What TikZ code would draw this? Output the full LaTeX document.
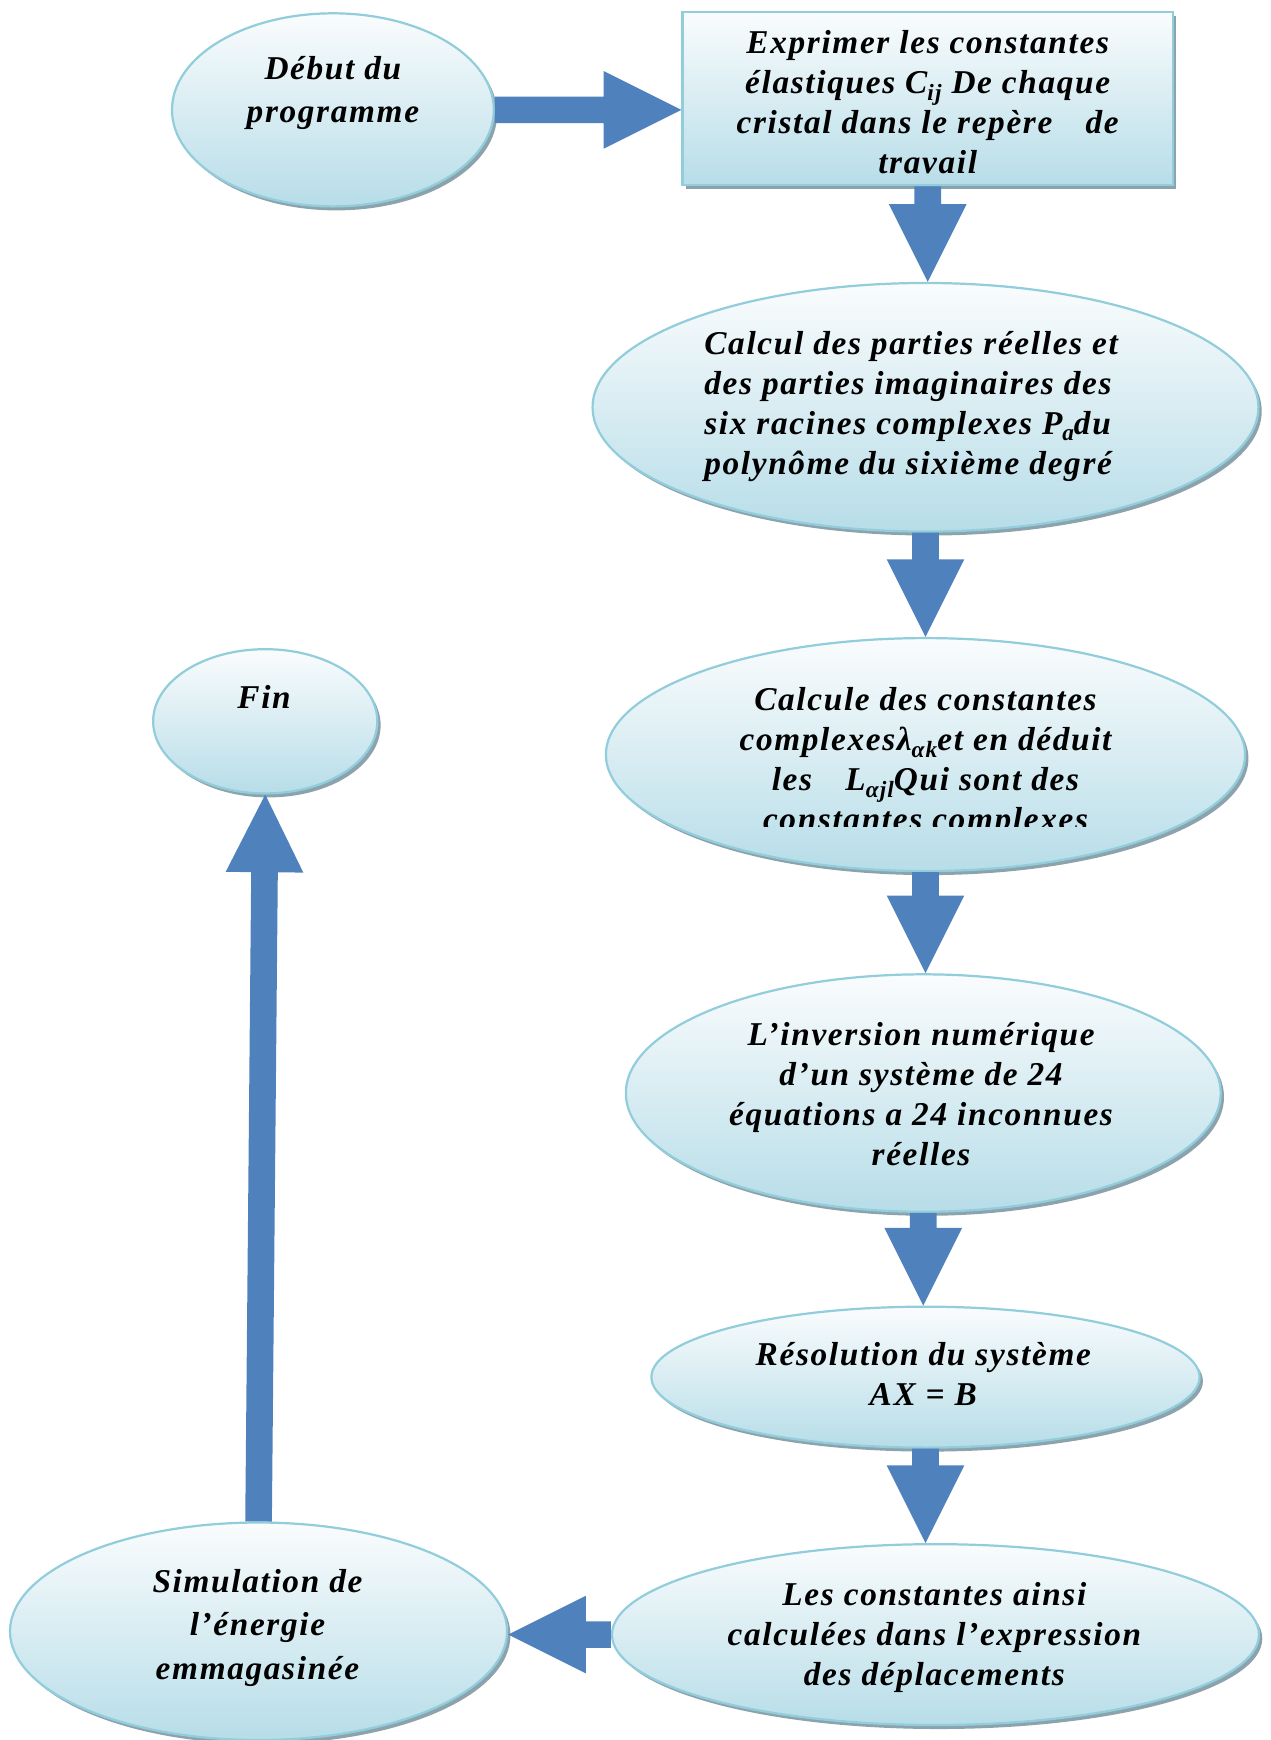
\documentclass[tikz,border=0pt]{standalone}
\usepackage{fontspec}
\setmainfont{Liberation Serif}[LetterSpace=5]
\usetikzlibrary{calc,shapes.geometric,shadows}
\definecolor{arrowblue}{HTML}{4F81BD}
\definecolor{edgec}{HTML}{92CDDC}
\definecolor{topc}{HTML}{FAFCFD}
\definecolor{botc}{HTML}{B7DDE8}
\definecolor{shadc}{HTML}{8CA3AD}
\newcommand\sbs[1]{\raisebox{-0.45ex}{\fontsize{10.5}{10}\selectfont #1}}
\newcommand\blockarrow[2]{%
  \path (#1) coordinate (bs) (#2) coordinate (bt);
  \path ($(bt)!35pt!(bs)$) coordinate (bh);
  \fill[arrowblue] ($(bs)!6pt!90:(bt)$) -- ($(bh)!6pt!90:(bt)$) -- ($(bh)!17.5pt!90:(bt)$) -- (bt)
    -- ($(bh)!17.5pt!-90:(bt)$) -- ($(bh)!6pt!-90:(bt)$) -- ($(bs)!6pt!-90:(bt)$) -- cycle;
}
\tikzset{
  box/.style={draw=edgec, line width=1pt, top color=topc, bottom color=botc,
    drop shadow={shadow xshift=1.5pt, shadow yshift=-1.8pt, fill=shadc, opacity=1}, inner sep=0pt},
  oval/.style={box, ellipse},
  rbox/.style={box, rectangle},
  txt/.style={font=\fontsize{15}{18}\selectfont\bfseries\itshape, align=center, inner sep=0pt},
  txtw/.style={font=\fontsize{15}{19.5}\selectfont\bfseries\itshape, align=center, inner sep=0pt}
}
\begin{document}
\begin{tikzpicture}[x=0.5pt,y=-0.5pt]
\useasboundingbox (0,0) rectangle (1145,1568);
% shapes
\node[oval, minimum width=145pt, minimum height=87pt] (start) at (300,99) {};
\node[rbox, minimum width=221pt, minimum height=78pt] (r) at (836,89) {};
\node[oval, minimum width=300pt, minimum height=112pt] (e2) at (834,367) {};
\node[oval, minimum width=288pt, minimum height=105pt] (e3) at (834,680) {};
\node[oval, minimum width=268pt, minimum height=107pt] (e4) at (832,985) {};
\node[oval, minimum width=247pt, minimum height=63.5pt] (e5) at (834,1241) {};
\node[oval, minimum width=291.5pt, minimum height=81.5pt] (e6) at (843,1473) {};
\node[oval, minimum width=224pt, minimum height=98pt] (e7) at (233,1470) {};
\node[oval, minimum width=101pt, minimum height=65pt] (fin) at (239,650) {};
% texts
\node[txtw] (t1) at (300,84) {Début du\\programme};
\node[txt] (t2) at (836,92) {Exprimer les constantes\\élastiques C\sbs{ij} De chaque\\cristal dans le repère\quad de\\travail};
\node[txt, align=left] (t3) at (821,366) {Calcul des parties réelles et\\des parties imaginaires des\\six racines complexes P\sbs{a}du\\polynôme du sixième degré};
\begin{scope}
\clip (0,0) rectangle (1145,745);
\node[txt] (t4) at (834,687) {Calcule des constantes\\complexesλ\sbs{αk}et en déduit\\les\quad L\sbs{αjl}Qui sont des\\constantes complexes};
\end{scope}
\node[txt] (t5) at (830,986) {L’inversion numérique\\d’un système de 24\\équations a 24 inconnues\\réelles};
\node[txt] (t6) at (832,1238) {Résolution du système\\AX = B};
\node[txt] (t7) at (842,1476) {Les constantes ainsi\\calculées dans l’expression\\des déplacements};
\node[txtw] (t8) at (232,1467) {Simulation de\\l’énergie\\emmagasinée};
\node[txt] (t9) at (238,628) {Fin};
% arrows
\blockarrow{start.east}{start.east -| r.west}
\blockarrow{r.south}{r.south |- e2.north}
\blockarrow{e2.south}{e2.south |- e3.north}
\blockarrow{e3.south}{e3.south |- e4.north}
\blockarrow{e4.south}{e4.south |- e5.north}
\blockarrow{e5.south}{e5.south |- e6.north}
\blockarrow{e6.west}{e6.west -| e7.east}
\blockarrow{e7.north}{fin.south}
\end{tikzpicture}
\end{document}
